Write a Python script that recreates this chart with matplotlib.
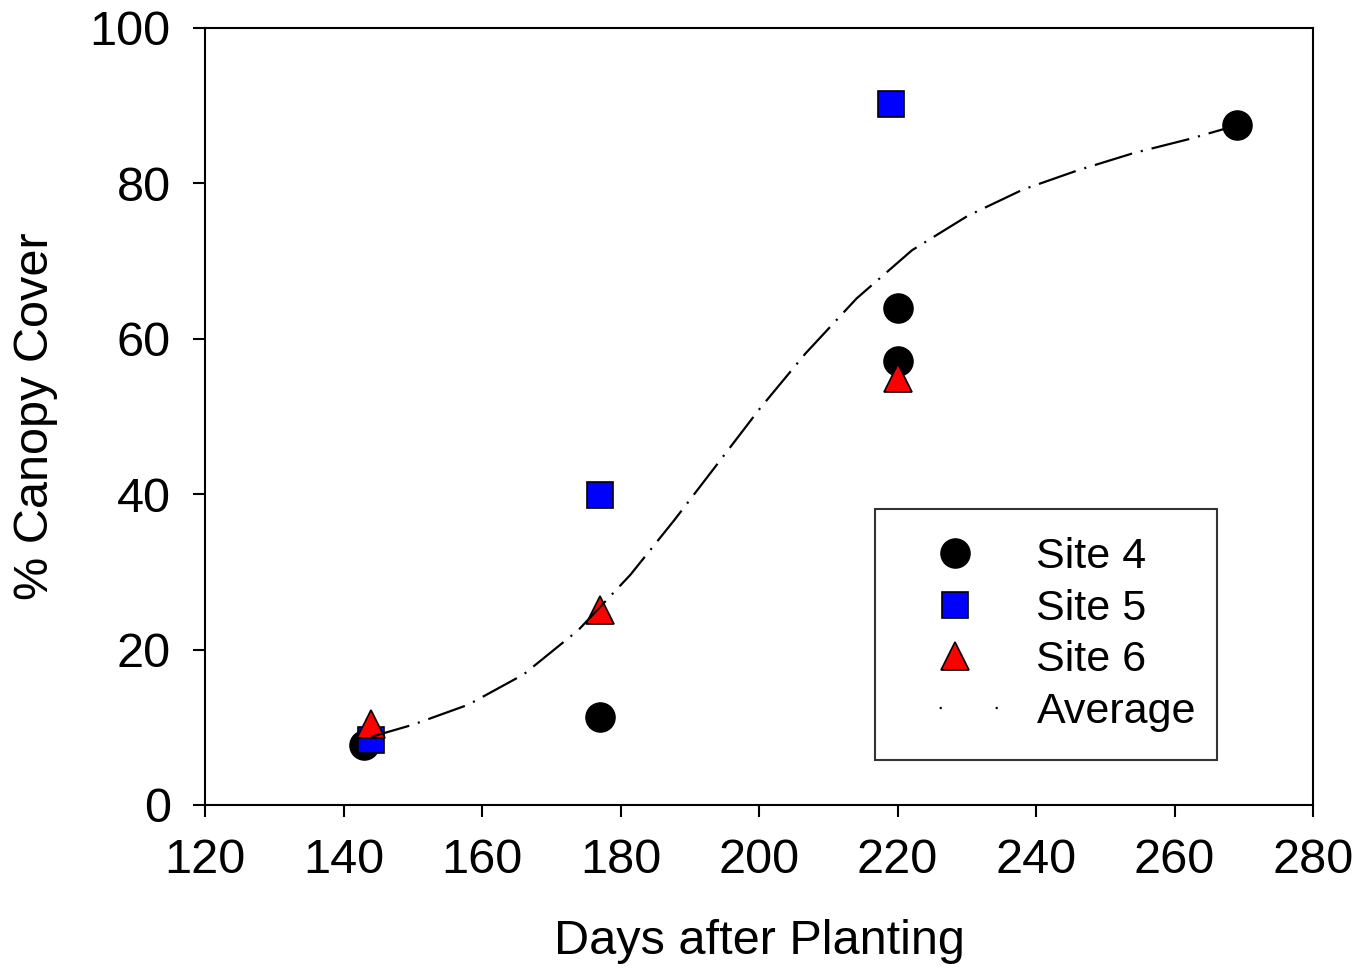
import numpy as np
import matplotlib.pyplot as plt
from matplotlib.lines import Line2D

plt.rcParams['font.family'] = ['Liberation Sans', 'DejaVu Sans']
plt.rcParams['lines.scale_dashes'] = False

# Du lieu doc tu hinh
site4_x = [143, 177, 220, 220, 269]
site4_y = [7.7, 11.3, 64.0, 57.1, 87.5]
site5_x = [144, 177, 219]
site5_y = [8.4, 39.9, 90.2]
site6_x = [144, 177, 220]
site6_y = [10.4, 25.1, 55.0]

# Duong trung binh (doc diem tren duong cong)
avg_x = [144.1, 149.9, 158.0, 166.0, 173.9, 181.4, 187.8, 194.0, 200.1,
         206.7, 214.1, 222.1, 230.1, 238.1, 246.1, 254.1, 262.1, 269.1]
avg_y = [8.8, 10.3, 12.9, 16.8, 22.5, 29.6, 36.7, 43.9, 51.0,
         58.1, 65.2, 71.4, 75.8, 79.2, 81.7, 83.9, 85.7, 87.5]

fig = plt.figure(figsize=(13.56, 9.68), dpi=100)
ax = fig.add_axes([0.1512, 0.1684, 0.8171, 0.8027])

ax.plot(site4_x, site4_y, 'o', color='black', markersize=21,
        markeredgecolor='black', markeredgewidth=1, linestyle='none', zorder=3)
ax.plot(site5_x, site5_y, 's', color='#0000FF', markersize=19,
        markeredgecolor='black', markeredgewidth=1.2, linestyle='none', zorder=3)
ax.plot(site6_x, site6_y, '^', color='#FF0000', markersize=20,
        markeredgecolor='black', markeredgewidth=1.2, linestyle='none', zorder=3)
ax.plot(avg_x, avg_y, color='black', linewidth=1.6,
        linestyle=(0, (28, 6.5, 1.5, 6.5)), zorder=4)

ax.set_xlim(120, 280)
ax.set_ylim(0, 100)
ax.set_xticks(np.arange(120, 281, 20))
ax.set_yticks(np.arange(0, 101, 20))
ax.tick_params(direction='out', length=8.6, width=1.5, labelsize=35)
ax.tick_params(axis='x', pad=15)
ax.tick_params(axis='y', pad=16)
for s in ax.spines.values():
    s.set_linewidth(1.5)

ax.set_xlabel('Days after Planting', fontsize=35, labelpad=26)
ax.set_ylabel('% Canopy Cover', fontsize=35, labelpad=23)

handles = [
    Line2D([], [], marker='o', color='black', markersize=21, linestyle='none'),
    Line2D([], [], marker='s', color='#0000FF', markeredgecolor='black',
           markeredgewidth=1.2, markersize=19, linestyle='none'),
    Line2D([], [], marker='^', color='#FF0000', markeredgecolor='black',
           markeredgewidth=1.2, markersize=20, linestyle='none'),
    Line2D([], [], color='black', linewidth=1.6, linestyle=(13.9, (1.5, 38.8))),
]
labels = ['Site 4', 'Site 5', 'Site 6', 'Average']
leg = ax.legend(handles, labels, loc='lower left',
                bbox_to_anchor=(0.6047, 0.0579, 0.3087, 0.3218), mode='expand',
                fontsize=31, frameon=True, fancybox=False, edgecolor='black',
                borderpad=0.65, handlelength=2.4, handletextpad=0.7,
                labelspacing=0.27, borderaxespad=0)
leg.get_frame().set_linewidth(1.5)

fig.savefig('out.png', dpi=100)
